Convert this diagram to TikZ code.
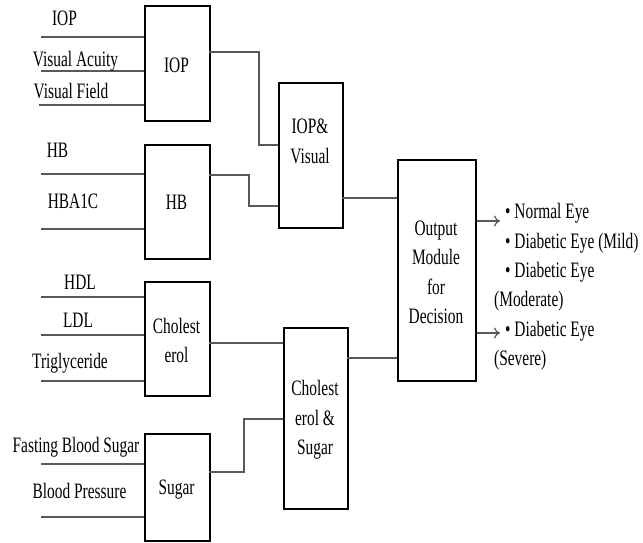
\documentclass[tikz,border=0pt]{standalone}
\usepackage{fontspec}
\setmainfont{Liberation Serif}[FakeStretch=0.7]
\usetikzlibrary{arrows.meta}
\begin{document}
\begin{tikzpicture}[x=1pt,y=-1pt,
  font=\fontsize{22}{29.5}\selectfont,
  blk/.style={draw=black,line width=1.6pt,inner sep=0pt,anchor=north west},
  wire/.style={draw=black!65,line width=1.2pt},
  lbl/.style={inner sep=0pt,anchor=base},
  btxt/.style={inner sep=0pt,align=center,anchor=center},
  otxt/.style={inner sep=0pt,anchor=base west}]
\useasboundingbox (0,0) rectangle (643,542);
% boxes
\node[blk,minimum width=65pt,minimum height=115pt] (iop) at (144,5) {};
\node[blk,minimum width=65pt,minimum height=114pt] (hb) at (144,144) {};
\node[blk,minimum width=65pt,minimum height=114pt] (chol) at (144,281) {};
\node[blk,minimum width=65pt,minimum height=107pt] (sug) at (144,433) {};
\node[blk,minimum width=64pt,minimum height=145pt] (iv) at (278,82) {};
\node[blk,minimum width=64pt,minimum height=181pt] (cs) at (283,327) {};
\node[blk,minimum width=78pt,minimum height=221pt] (out) at (397,159) {};
% box texts
\node[btxt] (tiop) at (176.5,65.5) {IOP};
\node[btxt] (thb) at (176.5,202.5) {HB};
\node[btxt] (tchol) at (176.5,340.5) {Cholest\\erol};
\node[btxt] (tsug) at (176.5,490) {Sugar};
\node[btxt] (tiv) at (310,141.5) {IOP\&\\Visual};
\node[btxt] (tcs) at (315,420) {Cholest\\erol \&\\Sugar};
\node[btxt] (tout) at (436,272.5) {Output\\Module\\for\\Decision};
% input lines
\coordinate (a1) at (41,37);  \coordinate (a2) at (41,71);  \coordinate (a3) at (39,105);
\coordinate (b1) at (41,174); \coordinate (b2) at (41,229);
\coordinate (c1) at (41,297); \coordinate (c2) at (41,335); \coordinate (c3) at (41,381);
\coordinate (d1) at (41,464); \coordinate (d2) at (41,517);
\draw[wire] (a1) -- (a1 -| iop.west);
\draw[wire] (a2) -- (a2 -| iop.west);
\draw[wire] (a3) -- (a3 -| iop.west);
\draw[wire] (b1) -- (b1 -| hb.west);
\draw[wire] (b2) -- (b2 -| hb.west);
\draw[wire] (c1) -- (c1 -| chol.west);
\draw[wire] (c2) -- (c2 -| chol.west);
\draw[wire] (c3) -- (c3 -| chol.west);
\draw[wire] (d1) -- (d1 -| sug.west);
\draw[wire] (d2) -- (d2 -| sug.west);
% input labels
\node[lbl] (l1) at (64.5,25.5) {IOP};
\node[lbl] (l2) at (75.5,66.5) {Visual Acuity};
\node[lbl] (l3) at (71,98) {Visual Field};
\node[lbl] (l4) at (57.5,157) {HB};
\node[lbl] (l5) at (73,208) {HBA1C};
\node[lbl] (l6) at (80,289) {HDL};
\node[lbl] (l7) at (78,327) {LDL};
\node[lbl] (l8) at (70,368) {Triglyceride};
\node[lbl] (l9) at (76,452) {Fasting Blood Sugar};
\node[lbl] (l10) at (79.5,498) {Blood Pressure};
% connectors between boxes
\coordinate (p1) at (209,52);
\draw[wire] (p1) -- (259,52) -- (259,145) -- (278,145);
\coordinate (p2) at (209,175);
\draw[wire] (p2) -- (249,175) -- (249,206) -- (278,206);
\coordinate (p3) at (209,343);
\draw[wire] (p3) -- (p3 -| cs.west);
\coordinate (p4) at (209,472);
\draw[wire] (p4) -- (244,472) -- (244,419) -- (283,419);
\coordinate (p5) at (342,198);
\draw[wire] (p5) -- (p5 -| out.west);
\coordinate (p6) at (347,358);
\draw[wire] (p6) -- (p6 -| out.west);
% output arrows
\coordinate (q1) at (500,221);
\coordinate (q2) at (500,333);
\draw[wire,-{To[length=6pt,width=11pt]}] (q1 -| out.east) -- (q1);
\draw[wire,-{To[length=6pt,width=11pt]}] (q2 -| out.east) -- (q2);
% output texts
\node[otxt] (o1) at (505,218) {• Normal Eye};
\node[otxt] (o2) at (505,248) {• Diabetic Eye (Mild)};
\node[otxt] (o3) at (505,277) {• Diabetic Eye};
\node[otxt] (o4) at (494,306) {(Moderate)};
\node[otxt] (o5) at (505,336) {• Diabetic Eye};
\node[otxt] (o6) at (494,365) {(Severe)};
\end{tikzpicture}
\end{document}
